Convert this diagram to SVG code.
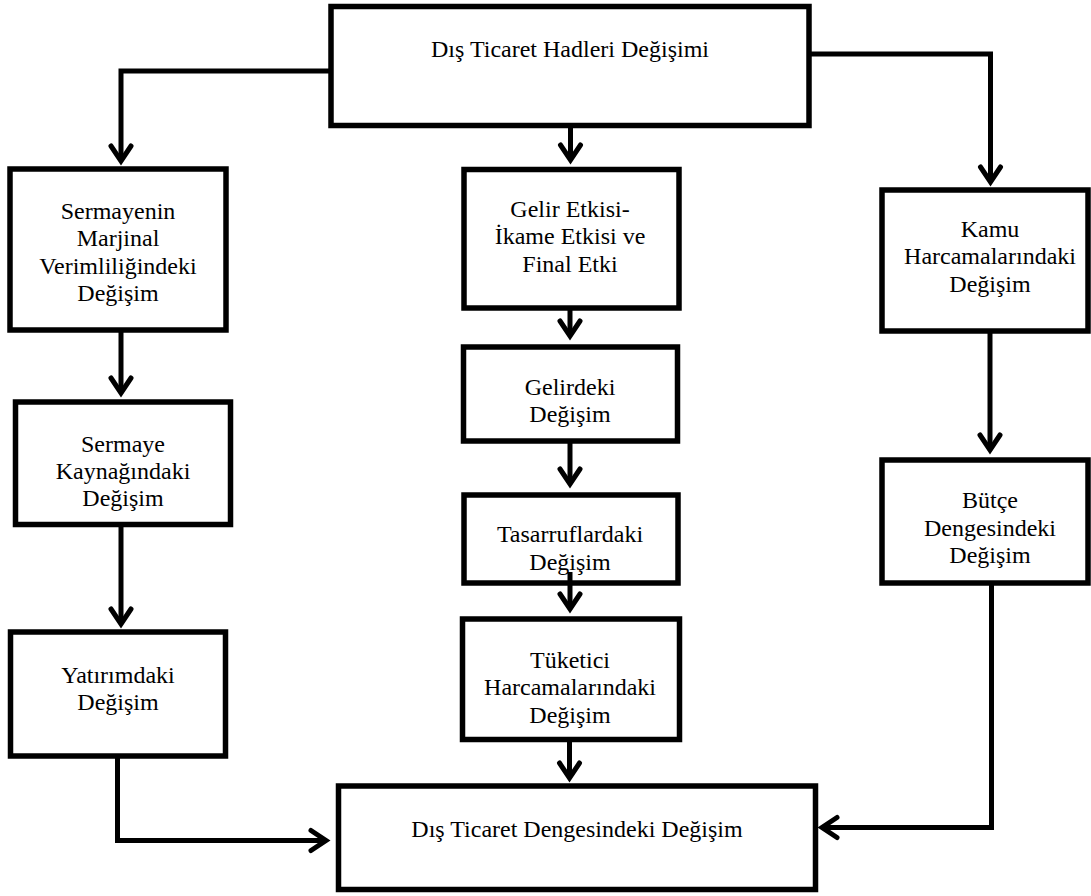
<svg xmlns="http://www.w3.org/2000/svg" width="1091" height="896" viewBox="0 0 1091 896">
<style>
.box{fill:#fff;stroke:#000;stroke-width:5.5}
.t{font-family:'Liberation Serif',Tinos,'Times New Roman',Times,'Nimbus Roman','DejaVu Serif',serif;font-size:24px;fill:#000;text-anchor:middle}
.c{fill:none;stroke:#000;stroke-width:5;stroke-linejoin:miter}
</style>
<defs>
<marker id="ah" markerUnits="userSpaceOnUse" orient="auto" refX="0" refY="0" markerWidth="40" markerHeight="40" overflow="visible">
<path d="M-15,-10 L0,0 L-15,10" fill="none" stroke="#000" stroke-width="5" stroke-linecap="round" stroke-linejoin="miter"/>
</marker>
</defs>
<rect width="1091" height="896" fill="#fff"/>
<g id="top"><rect class="box" x="331" y="6.5" width="478" height="119"/><text class="t" x="570" y="57">Dış Ticaret Hadleri Değişimi</text></g>
<g id="sermayenin"><rect class="box" x="10" y="169" width="216" height="161"/><text class="t" x="118"><tspan x="118" y="218.5">Sermayenin</tspan><tspan x="118" y="246">Marjinal</tspan><tspan x="118" y="273.5">Verimliliğindeki</tspan><tspan x="118" y="301">Değişim</tspan></text></g>
<g id="sermaye"><rect class="box" x="15.5" y="402" width="215" height="122.5"/><text class="t"><tspan x="123" y="451.7">Sermaye</tspan><tspan x="123" y="479">Kaynağındaki</tspan><tspan x="123" y="506">Değişim</tspan></text></g>
<g id="yatirim"><rect class="box" x="10.5" y="632" width="215" height="124"/><text class="t"><tspan x="118" y="682.7">Yatırımdaki</tspan><tspan x="118" y="710">Değişim</tspan></text></g>
<g id="gelir-etkisi"><rect class="box" x="464" y="169.5" width="215" height="138.5"/><text class="t"><tspan x="570" y="216.7">Gelir Etkisi-</tspan><tspan x="570" y="244">İkame Etkisi ve</tspan><tspan x="570" y="271.7">Final Etki</tspan></text></g>
<g id="gelirdeki"><rect class="box" x="463.5" y="347" width="214" height="94"/><text class="t"><tspan x="570" y="395">Gelirdeki</tspan><tspan x="570" y="422">Değişim</tspan></text></g>
<g id="tasarruf"><rect class="box" x="464" y="495" width="214" height="88"/><text class="t"><tspan x="570" y="542">Tasarruflardaki</tspan><tspan x="570" y="569.5">Değişim</tspan></text></g>
<g id="tuketici"><rect class="box" x="462.5" y="619" width="217" height="120.5"/><text class="t"><tspan x="570" y="668">Tüketici</tspan><tspan x="570" y="695">Harcamalarındaki</tspan><tspan x="570" y="722.7">Değişim</tspan></text></g>
<g id="kamu"><rect class="box" x="882" y="190" width="206" height="141"/><text class="t"><tspan x="990" y="236.7">Kamu</tspan><tspan x="990" y="264">Harcamalarındaki</tspan><tspan x="990" y="291.7">Değişim</tspan></text></g>
<g id="butce"><rect class="box" x="882" y="460" width="206" height="123"/><text class="t"><tspan x="990" y="508">Bütçe</tspan><tspan x="990" y="536">Dengesindeki</tspan><tspan x="990" y="562.7">Değişim</tspan></text></g>
<g id="dis-ticaret-dengesi"><rect class="box" x="338.5" y="786" width="477" height="103.5"/><text class="t" x="577" y="836.7">Dış Ticaret Dengesindeki Değişim</text></g>
<g id="connectors">
<path class="c" d="M331,71 H121 V161" marker-end="url(#ah)"/>
<path class="c" d="M570.5,125.5 V160" marker-end="url(#ah)"/>
<path class="c" d="M809,54 H990.5 V182" marker-end="url(#ah)"/>
<path class="c" d="M121,330 V393" marker-end="url(#ah)"/>
<path class="c" d="M121,524.5 V624" marker-end="url(#ah)"/>
<path class="c" d="M117.5,756 V840.5 H326" marker-end="url(#ah)"/>
<path class="c" d="M570,308 V336" marker-end="url(#ah)"/>
<path class="c" d="M570,441 V484" marker-end="url(#ah)"/>
<path class="c" d="M570,572 V609" marker-end="url(#ah)"/>
<path class="c" d="M569.5,739.5 V778" marker-end="url(#ah)"/>
<path class="c" d="M990,331 V450" marker-end="url(#ah)"/>
<path class="c" d="M991.5,583 V827.5 H822" marker-end="url(#ah)"/>
</g>
</svg>
